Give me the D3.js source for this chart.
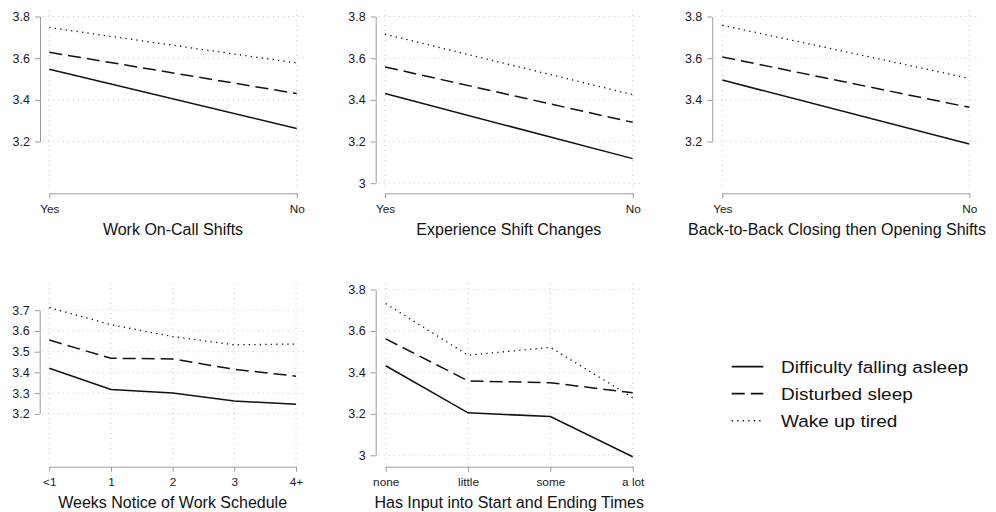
<!DOCTYPE html>
<html>
<head>
<meta charset="utf-8">
<script src="https://cdn.jsdelivr.net/npm/d3@7"></script>
<style>
  html, body { margin: 0; padding: 0; background: #fff; }
  svg { display: block; font-family: "Liberation Sans", Arial, Helvetica, sans-serif; }
</style>
</head>
<body>
<svg id="chart" width="996" height="512"></svg>
<script>
// Sleep outcomes by scheduling condition
const seriesNames = ["Difficulty falling asleep", "Disturbed sleep", "Wake up tired"];

const onCallCats = ["Yes", "No"];
const onCallFalling = [3.547, 3.263];
const onCallDisturbed = [3.628, 3.430];
const onCallTired = [3.747, 3.577];

const shiftChangeCats = ["Yes", "No"];
const shiftChangeFalling = [3.430, 3.118];
const shiftChangeDisturbed = [3.558, 3.292];
const shiftChangeTired = [3.715, 3.425];

const closeOpenCats = ["Yes", "No"];
const closeOpenFalling = [3.495, 3.188];
const closeOpenDisturbed = [3.606, 3.364];
const closeOpenTired = [3.758, 3.503];

const noticeCats = ["<1", "1", "2", "3", "4+"];
const noticeFalling = [3.420, 3.318, 3.301, 3.262, 3.246];
const noticeDisturbed = [3.556, 3.468, 3.465, 3.415, 3.382];
const noticeTired = [3.713, 3.630, 3.573, 3.533, 3.537];

const inputCats = ["none", "little", "some", "a lot"];
const inputFalling = [3.432, 3.205, 3.187, 2.993];
const inputDisturbed = [3.562, 3.359, 3.350, 3.302];
const inputTired = [3.732, 3.483, 3.521, 3.278];

const ticksFrom32 = [3.2, 3.4, 3.6, 3.8];
const ticksFrom30 = [3.0, 3.2, 3.4, 3.6, 3.8];
const ticksTenths = [3.2, 3.3, 3.4, 3.5, 3.6, 3.7];

const axisTitles = [
  "Work On-Call Shifts",
  "Experience Shift Changes",
  "Back-to-Back Closing then Opening Shifts",
  "Weeks Notice of Work Schedule",
  "Has Input into Start and Ending Times"
];

// line styles per series: solid, dashed, dotted
const dashes = [null, "13,6", "1.3,4.2"];
const widths = [1.5, 1.5, 1.3];

const panels = [
  { cats: onCallCats, vals: [onCallFalling, onCallDisturbed, onCallTired], ticks: ticksFrom32, title: axisTitles[0],
    axisX: 40, x0: 49.3, x1: 296.7, row: 0, maxRight: 330 },
  { cats: shiftChangeCats, vals: [shiftChangeFalling, shiftChangeDisturbed, shiftChangeTired], ticks: ticksFrom30, title: axisTitles[1],
    axisX: 375.7, x0: 385, x1: 632.7, row: 0, maxRight: 665 },
  { cats: closeOpenCats, vals: [closeOpenFalling, closeOpenDisturbed, closeOpenTired], ticks: ticksFrom32, title: axisTitles[2],
    axisX: 712.3, x0: 722.3, x1: 969.3, row: 0, maxRight: 986 },
  { cats: noticeCats, vals: [noticeFalling, noticeDisturbed, noticeTired], ticks: ticksTenths, title: axisTitles[3],
    axisX: 39.7, x0: 49.3, x1: 296, row: 1, maxRight: 330 },
  { cats: inputCats, vals: [inputFalling, inputDisturbed, inputTired], ticks: ticksFrom30, title: axisTitles[4],
    axisX: 375.7, x0: 385.7, x1: 632.7, row: 1, maxRight: 665 }
];

// vertical placement of each row: pixel for 3.0, pixel for 3.8, x-axis line, top of plot region
const rows = [
  { y30: 183.2, y38: 16.5, axisY: 193.3, top: 10 },
  { y30: 455.3, y38: 289.5, axisY: 466.7, top: 283 }
];

const svg = d3.select("#chart");
const fmt = v => String(+v.toFixed(1));
const gridColor = "#c8c8c8";
const axisColor = "#9a9a9a";

panels.forEach(p => {
  const r = rows[p.row];
  const g = svg.append("g");
  const x = d3.scalePoint().domain(p.cats).range([p.x0, p.x1]);
  const y = d3.scaleLinear().domain([3.0, 3.8]).range([r.y30, r.y38]);
  const gridRight = p.x1 + 10;

  // horizontal grid at tick values
  g.append("g").selectAll("line").data(p.ticks).join("line")
    .attr("x1", p.axisX + 3).attr("x2", gridRight)
    .attr("y1", d => y(d)).attr("y2", d => y(d))
    .attr("stroke", gridColor).attr("stroke-width", 1)
    .attr("stroke-dasharray", "1,4");

  // vertical grid at each category
  g.append("g").selectAll("line").data(p.cats).join("line")
    .attr("x1", d => x(d)).attr("x2", d => x(d))
    .attr("y1", r.top).attr("y2", r.axisY - 3)
    .attr("stroke", gridColor).attr("stroke-width", 1)
    .attr("stroke-dasharray", "1,4");

  // y axis spans only the labelled ticks
  const lo = d3.min(p.ticks), hi = d3.max(p.ticks);
  const yAxisScale = y.copy().domain([lo, hi]).range([y(lo), y(hi)]);
  const ya = g.append("g").attr("transform", `translate(${p.axisX},0)`)
    .call(d3.axisLeft(yAxisScale).tickValues(p.ticks).tickFormat(fmt).tickSize(5).tickSizeOuter(0).tickPadding(5));
  ya.select(".domain").attr("stroke", axisColor);
  ya.selectAll(".tick line").attr("stroke", axisColor);
  ya.selectAll(".tick text").attr("fill", "#1a1a1a").attr("font-size", 12.5)
    .attr("font-family", "'Liberation Sans', Arial, sans-serif");

  // x axis
  const xa = g.append("g").attr("transform", `translate(0,${r.axisY})`)
    .call(d3.axisBottom(x).tickSize(5).tickSizeOuter(0).tickPadding(6));
  xa.select(".domain").attr("stroke", axisColor);
  xa.selectAll(".tick line").attr("stroke", axisColor);
  xa.selectAll(".tick text").attr("fill", "#1a1a1a").attr("font-size", 11.8)
    .attr("font-family", "'Liberation Sans', Arial, sans-serif");

  // axis title, kept inside the figure's right edge
  const t = g.append("text")
    .attr("x", (p.x0 + p.x1) / 2).attr("y", r.axisY + 41.5)
    .attr("text-anchor", "middle").attr("font-size", 16).attr("fill", "#111")
    .text(p.title);
  const bb = t.node().getBBox();
  if (bb.x + bb.width > p.maxRight) t.attr("x", (p.x0 + p.x1) / 2 - (bb.x + bb.width - p.maxRight));

  // series lines
  const line = d3.line().x((d, i) => x(p.cats[i])).y(d => y(d));
  p.vals.forEach((vals, s) => {
    g.append("path").datum(vals)
      .attr("d", line)
      .attr("fill", "none").attr("stroke", "#111")
      .attr("stroke-width", widths[s])
      .attr("stroke-dasharray", dashes[s]);
  });
});

// legend
const legend = svg.append("g").attr("transform", "translate(731.7,366.7)");
seriesNames.forEach((name, s) => {
  const row = legend.append("g").attr("transform", `translate(0,${s * 27})`);
  row.append("line").attr("x1", 0).attr("x2", 31.6).attr("y1", 0).attr("y2", 0)
    .attr("stroke", "#111").attr("stroke-width", widths[s] + 0.2)
    .attr("stroke-dasharray", dashes[s]);
  row.append("text").attr("transform", "translate(49.3,6) scale(1.15,1)")
    .attr("font-size", 16.5).attr("fill", "#111").text(name);
});
</script>
</body>
</html>
